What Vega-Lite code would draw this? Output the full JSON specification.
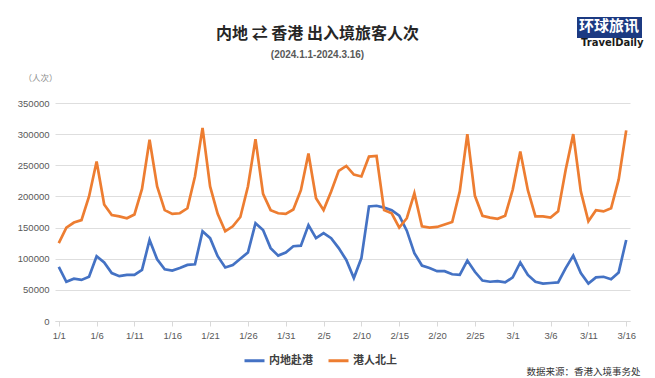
{
  "$schema": "https://vega.github.io/schema/vega-lite/v6.json",
  "width": 575,
  "height": 218,
  "autosize": {"type": "none"},
  "padding": {"left": 55, "top": 103, "right": 25, "bottom": 57},
  "background": "white",
  "config": {"font": "Noto Sans CJK SC", "view": {"stroke": null}},
  "title": {
    "text": "内地 ⇄ 香港 出入境旅客人次",
    "subtitle": "(2024.1.1-2024.3.16)",
    "anchor": "middle",
    "frame": "group",
    "dx": -25,
    "dy": 43,
    "offset": 0,
    "fontSize": 16,
    "fontWeight": "bold",
    "color": "#262626",
    "subtitleFontSize": 10,
    "subtitleFontWeight": "bold",
    "subtitleColor": "#595959",
    "subtitleFont": "Liberation Sans",
    "subtitlePadding": 8
  },
  "data": {
    "values": [
      {"date": "1/1", "内地赴港": 87000, "港人北上": 125000},
      {"date": "1/2", "内地赴港": 63000, "港人北上": 150000},
      {"date": "1/3", "内地赴港": 68000, "港人北上": 158000},
      {"date": "1/4", "内地赴港": 66000, "港人北上": 162000},
      {"date": "1/5", "内地赴港": 71000, "港人北上": 200000},
      {"date": "1/6", "内地赴港": 104000, "港人北上": 256000},
      {"date": "1/7", "内地赴港": 94000, "港人北上": 187000},
      {"date": "1/8", "内地赴港": 77000, "港人北上": 170000},
      {"date": "1/9", "内地赴港": 72000, "港人北上": 168000},
      {"date": "1/10", "内地赴港": 74000, "港人北上": 165000},
      {"date": "1/11", "内地赴港": 74000, "港人北上": 171000},
      {"date": "1/12", "内地赴港": 82000, "港人北上": 212000},
      {"date": "1/13", "内地赴港": 130000, "港人北上": 291000},
      {"date": "1/14", "内地赴港": 99000, "港人北上": 216000},
      {"date": "1/15", "内地赴港": 83000, "港人北上": 178000},
      {"date": "1/16", "内地赴港": 81000, "港人北上": 172000},
      {"date": "1/17", "内地赴港": 85000, "港人北上": 173000},
      {"date": "1/18", "内地赴港": 90000, "港人北上": 181000},
      {"date": "1/19", "内地赴港": 91000, "港人北上": 232000},
      {"date": "1/20", "内地赴港": 144000, "港人北上": 310000},
      {"date": "1/21", "内地赴港": 133000, "港人北上": 216000},
      {"date": "1/22", "内地赴港": 104000, "港人北上": 172000},
      {"date": "1/23", "内地赴港": 86000, "港人北上": 144000},
      {"date": "1/24", "内地赴港": 90000, "港人北上": 152000},
      {"date": "1/25", "内地赴港": 100000, "港人北上": 167000},
      {"date": "1/26", "内地赴港": 110000, "港人北上": 216000},
      {"date": "1/27", "内地赴港": 157000, "港人北上": 292000},
      {"date": "1/28", "内地赴港": 146000, "港人北上": 204000},
      {"date": "1/29", "内地赴港": 117000, "港人北上": 178000},
      {"date": "1/30", "内地赴港": 105000, "港人北上": 173000},
      {"date": "1/31", "内地赴港": 110000, "港人北上": 172000},
      {"date": "2/1", "内地赴港": 120000, "港人北上": 179000},
      {"date": "2/2", "内地赴港": 121000, "港人北上": 210000},
      {"date": "2/3", "内地赴港": 154000, "港人北上": 269000},
      {"date": "2/4", "内地赴港": 133000, "港人北上": 197000},
      {"date": "2/5", "内地赴港": 141000, "港人北上": 178000},
      {"date": "2/6", "内地赴港": 133000, "港人北上": 208000},
      {"date": "2/7", "内地赴港": 117000, "港人北上": 241000},
      {"date": "2/8", "内地赴港": 98000, "港人北上": 249000},
      {"date": "2/9", "内地赴港": 69000, "港人北上": 235000},
      {"date": "2/10", "内地赴港": 101000, "港人北上": 232000},
      {"date": "2/11", "内地赴港": 184000, "港人北上": 264000},
      {"date": "2/12", "内地赴港": 185000, "港人北上": 265000},
      {"date": "2/13", "内地赴港": 182000, "港人北上": 178000},
      {"date": "2/14", "内地赴港": 178000, "港人北上": 173000},
      {"date": "2/15", "内地赴港": 169000, "港人北上": 150000},
      {"date": "2/16", "内地赴港": 145000, "港人北上": 165000},
      {"date": "2/17", "内地赴港": 109000, "港人北上": 205000},
      {"date": "2/18", "内地赴港": 89000, "港人北上": 152000},
      {"date": "2/19", "内地赴港": 85000, "港人北上": 150000},
      {"date": "2/20", "内地赴港": 80000, "港人北上": 151000},
      {"date": "2/21", "内地赴港": 80000, "港人北上": 155000},
      {"date": "2/22", "内地赴港": 75000, "港人北上": 159000},
      {"date": "2/23", "内地赴港": 74000, "港人北上": 208000},
      {"date": "2/24", "内地赴港": 97000, "港人北上": 300000},
      {"date": "2/25", "内地赴港": 79000, "港人北上": 201000},
      {"date": "2/26", "内地赴港": 65000, "港人北上": 169000},
      {"date": "2/27", "内地赴港": 63000, "港人北上": 166000},
      {"date": "2/28", "内地赴港": 64000, "港人北上": 164000},
      {"date": "2/29", "内地赴港": 62000, "港人北上": 169000},
      {"date": "3/1", "内地赴港": 70000, "港人北上": 211000},
      {"date": "3/2", "内地赴港": 94000, "港人北上": 272000},
      {"date": "3/3", "内地赴港": 74000, "港人北上": 210000},
      {"date": "3/4", "内地赴港": 63000, "港人北上": 168000},
      {"date": "3/5", "内地赴港": 60000, "港人北上": 168000},
      {"date": "3/6", "内地赴港": 61000, "港人北上": 166000},
      {"date": "3/7", "内地赴港": 62000, "港人北上": 176000},
      {"date": "3/8", "内地赴港": 85000, "港人北上": 243000},
      {"date": "3/9", "内地赴港": 105000, "港人北上": 300000},
      {"date": "3/10", "内地赴港": 77000, "港人北上": 208000},
      {"date": "3/11", "内地赴港": 60000, "港人北上": 160000},
      {"date": "3/12", "内地赴港": 70000, "港人北上": 178000},
      {"date": "3/13", "内地赴港": 71000, "港人北上": 176000},
      {"date": "3/14", "内地赴港": 67000, "港人北上": 181000},
      {"date": "3/15", "内地赴港": 78000, "港人北上": 227000},
      {"date": "3/16", "内地赴港": 130000, "港人北上": 306000}
    ]
  },
  "transform": [{"fold": ["内地赴港", "港人北上"], "as": ["series", "value"]}],
  "encoding": {
    "x": {
      "field": "date",
      "type": "ordinal",
      "sort": null,
      "scale": {"type": "point", "padding": 0.5},
      "axis": {
        "values": ["1/1", "1/6", "1/11", "1/16", "1/21", "1/26", "1/31", "2/5", "2/10", "2/15", "2/20", "2/25", "3/1", "3/6", "3/11", "3/16"],
        "labelAngle": 0,
        "labelFont": "Liberation Sans",
        "labelFontSize": 9.5,
        "labelColor": "#595959",
        "labelPadding": 4,
        "domainColor": "#d9d9d9",
        "tickColor": "#d9d9d9",
        "tickSize": 5,
        "grid": false,
        "title": "数据来源：香港入境事务处",
        "titleFontSize": 9.5,
        "titleFontWeight": "normal",
        "titleColor": "#333333",
        "titleAnchor": "end",
        "titleAlign": "right",
        "titleBaseline": "middle",
        "titleX": 585,
        "titleY": 50
      }
    },
    "y": {
      "field": "value",
      "type": "quantitative",
      "scale": {"domain": [0, 350000]},
      "axis": {
        "values": [0, 50000, 100000, 150000, 200000, 250000, 300000, 350000],
        "format": "d",
        "labelFont": "Liberation Sans",
        "labelFontSize": 9.5,
        "labelColor": "#595959",
        "labelPadding": 6,
        "domain": false,
        "ticks": false,
        "gridColor": "#dedede",
        "title": "（人次）",
        "titleAngle": 0,
        "titleFontSize": 8.5,
        "titleFontWeight": "normal",
        "titleColor": "#8c8c8c",
        "titleAlign": "center",
        "titleBaseline": "middle",
        "titleX": -15,
        "titleY": -26
      }
    }
  },
  "layer": [
    {
      "mark": {"type": "line", "strokeWidth": 2.7},
      "encoding": {
        "color": {
          "field": "series",
          "type": "nominal",
          "scale": {"domain": ["内地赴港", "港人北上"], "range": ["#4472C4", "#ED7D31"]},
          "legend": {
            "title": null,
            "orient": "none",
            "direction": "horizontal",
            "legendX": 188,
            "legendY": 246,
            "symbolType": "stroke",
            "symbolStrokeWidth": 3,
            "symbolSize": 400,
            "labelFontSize": 11,
            "labelColor": "#404040",
            "labelFontWeight": "bold",
            "columnPadding": 9,
            "labelOffset": 3
          }
        }
      }
    },
    {
      "mark": {"type": "point", "opacity": 0},
      "encoding": {
        "shape": {
          "datum": "环球旅讯",
          "legend": {
            "title": "环球旅讯",
            "orient": "none",
            "legendX": 522,
            "legendY": -86,
            "fillColor": "#1c3a82",
            "padding": 2,
            "titleColor": "white",
            "titleFontSize": 15,
            "titleFontWeight": "bold",
            "titlePadding": 0,
            "symbolOpacity": 0,
            "symbolSize": 1,
            "labelFontSize": 1,
            "labelOpacity": 0
          }
        }
      }
    },
    {
      "mark": {"type": "line", "opacity": 0},
      "encoding": {
        "strokeDash": {
          "datum": "TravelDaily",
          "legend": {
            "title": "TravelDaily",
            "orient": "none",
            "legendX": 526,
            "legendY": -65,
            "titleColor": "#1a1a1a",
            "titleFont": "DejaVu Sans",
            "titleFontSize": 10,
            "titleFontWeight": "bold",
            "titlePadding": 0,
            "symbolOpacity": 0,
            "symbolSize": 1,
            "labelFontSize": 1,
            "labelOpacity": 0
          }
        }
      }
    }
  ]
}
